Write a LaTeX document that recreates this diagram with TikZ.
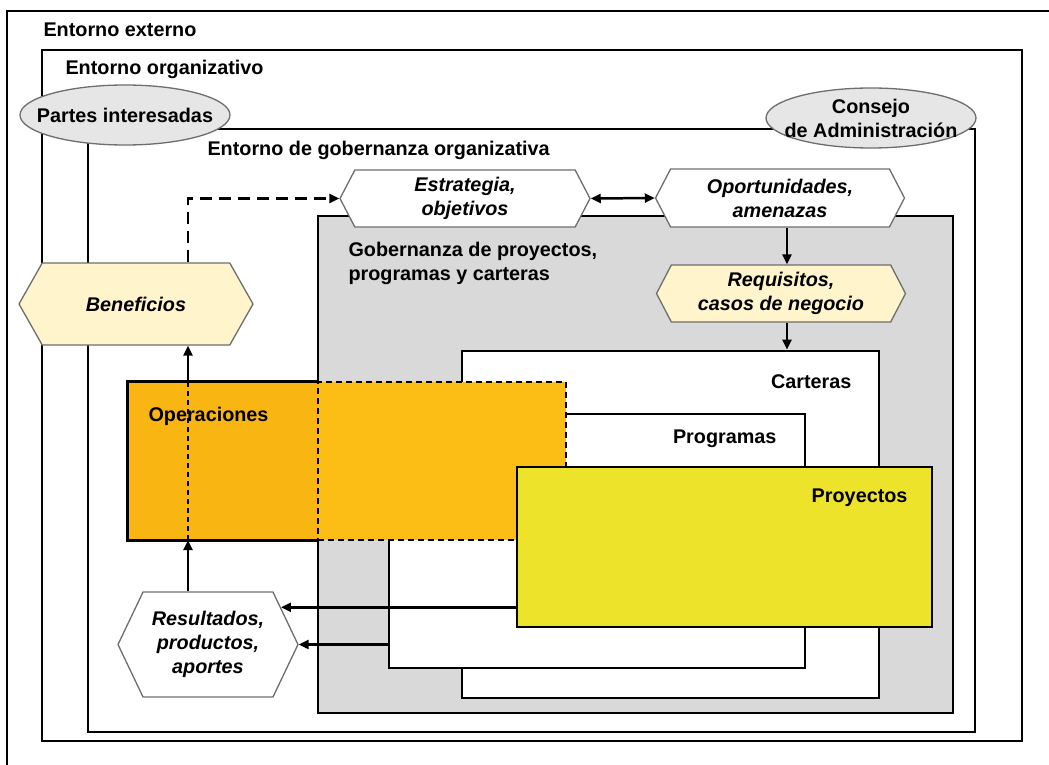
\documentclass[tikz,border=0pt]{standalone}
\usepackage{fontspec}
\setmainfont{Liberation Sans}
\usetikzlibrary{arrows.meta, positioning, calc, shapes.geometric, shapes.symbols}
\definecolor{govgray}{HTML}{D9D9D9}
\definecolor{ovalgray}{HTML}{E6E6E6}
\definecolor{hexline}{HTML}{6E6E6E}
\definecolor{paleyellow}{HTML}{FFF4CC}
\definecolor{opsorange}{HTML}{F9B612}
\definecolor{opslight}{HTML}{FCBE14}
\definecolor{projyellow}{HTML}{EEE32B}

\begin{document}
\begin{tikzpicture}[
  x=1pt, y=-1pt,
  every node/.style={font=\fontsize{19.8}{24}\selectfont\bfseries},
  envbox/.style={draw, line width=2.8pt, rectangle, inner sep=0pt},
  hexa/.style={signal, signal to=west and east, signal pointer angle=125,
               draw=hexline, line width=1.3pt, fill=white, inner sep=0pt, align=center,
               font=\fontsize{19.8}{24}\selectfont\bfseries\itshape},
  oval/.style={ellipse, draw=hexline, fill=ovalgray, line width=1.3pt,
               inner xsep=-14pt, inner ysep=0pt, minimum width=210pt, minimum height=60pt, align=center},
  flow/.style={-{Triangle[length=10pt,width=9pt]}, line width=2.5pt},
  dflow/.style={flow, dash pattern=on 12pt off 7pt}
]
  \clip (0,0) rectangle (1049,765);
  \fill[white] (0,0) rectangle (1049,765);

  % nested environments
  \node[envbox, minimum width=1060pt, minimum height=776pt] (ext) at (537,399) {};
  \node[envbox, minimum width=980pt, minimum height=691pt] (org) at (532,395.5) {};
  \node[envbox, minimum width=887pt, minimum height=603pt] (gob) at (531.5,430.5) {};
  \node[oval] (parts) at (125,115) {Partes interesadas};
  \node[oval] (board) at (871,118) {Consejo\\de Administración};

  % governance of projects, programmes and portfolios
  \node[envbox, fill=govgray, minimum width=635pt, minimum height=497pt] (gpp) at (635.5,464.5) {};
  \node[envbox, fill=white, minimum width=417pt, minimum height=347pt] (cart) at (670.5,524.5) {};
  \node[envbox, fill=white, minimum width=416pt, minimum height=254pt] (prog) at (597,541) {};
  \node[rectangle, fill=opsorange, inner sep=0pt,
        minimum width=190pt, minimum height=158pt] (ops) at (223,461) {};
  \node[rectangle, fill=opslight, draw, line width=2pt, dash pattern=on 6pt off 4pt,
        inner sep=0pt, minimum width=248pt, minimum height=158pt] (opsx) at (442,461) {};
  \draw[line width=2.8pt] (ops.north east) -- (ops.north west) -- (ops.south west) -- (ops.south east);
  \node[envbox, fill=projyellow, minimum width=415pt, minimum height=160pt] (proj) at (724.5,547) {};

  % labels
  \node[anchor=base west] (extlbl) at (40,37) {Entorno externo};
  \node[anchor=base west] (orglbl) at (62,75) {Entorno organizativo};
  \node[anchor=base west] (goblbl) at (204,155) {Entorno de gobernanza organizativa};
  \node[anchor=west, align=left] (gpplbl) at (345,263) {Gobernanza de proyectos,\\programas y carteras};
  \node[anchor=base west] (opslbl) at (145,421) {Operaciones};
  \node[anchor=base east] (cartlbl) at (855,388) {Carteras};
  \node[anchor=base east] (proglbl) at (780,443) {Programas};
  \node[anchor=base east] (projlbl) at (911,502) {Proyectos};

  % hexagons
  \node[hexa, minimum width=250pt, minimum height=57pt] (est) at (465,198.5) {Estrategia,\\objetivos};
  \node[hexa, minimum width=249pt, minimum height=58pt] (opp) at (780,198) {Oportunidades,\\amenazas};
  \node[hexa, fill=paleyellow, minimum width=249pt, minimum height=57pt] (req) at (781,293.5) {Requisitos,\\casos de negocio};
  \node[hexa, fill=paleyellow, signal pointer angle=121,
        minimum width=234pt, minimum height=82pt] (ben) at (136,304) {Beneficios};
  \node[hexa, signal pointer angle=129,
        minimum width=180pt, minimum height=105pt] (res) at (208,644.5) {Resultados,\\productos,\\aportes};

  % connectors
  \coordinate (lift) at (188,0);
  \coordinate (drop) at (787,0);
  \draw[flow] (res.north -| lift) -- (ops.south -| lift);
  \draw[line width=1.5pt, dash pattern=on 5pt off 4pt] (ops.south -| lift) -- (ops.north -| lift);
  \draw[flow] (ops.north -| lift) -- (ben.south -| lift);
  \draw[dflow] (ben.north -| lift) |- (est.west);
  \draw[{Triangle[length=10pt,width=9pt]}-{Triangle[length=10pt,width=9pt]}, line width=2.5pt] (est.east) -- (opp.west);
  \draw[flow] (opp.south -| drop) -- (req.north -| drop);
  \draw[flow] (req.south -| drop) -- (cart.north -| drop);
  \draw[flow] (proj.west |- res.27) -- (res.27);
  \draw[flow] (prog.west |- res.east) -- (res.east);
\end{tikzpicture}
\end{document}
